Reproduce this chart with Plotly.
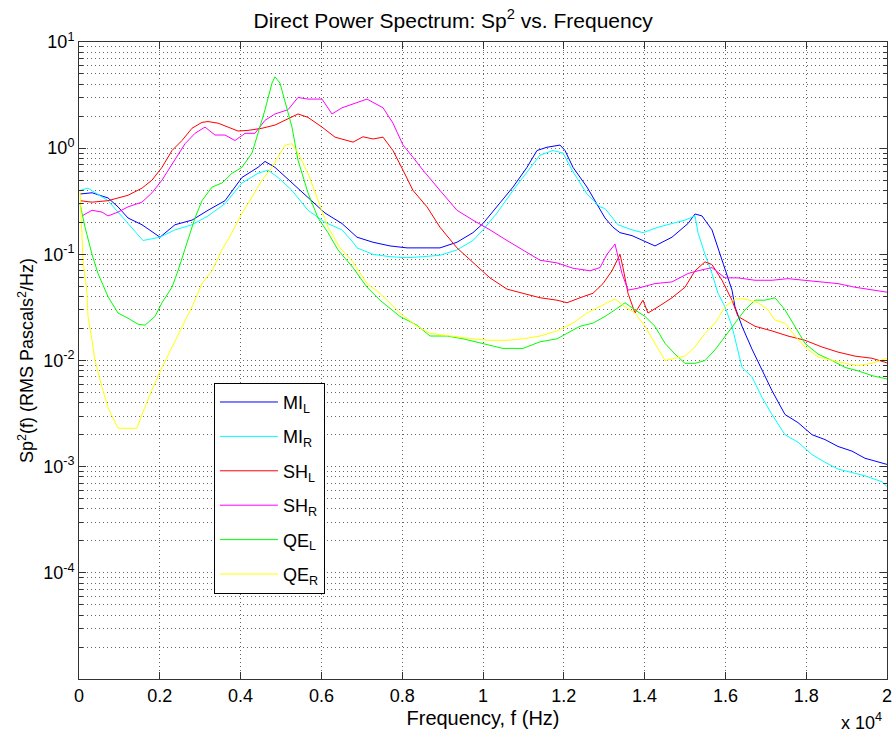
import plotly.graph_objects as go

# ---- data (frequency in Hz, Sp^2 in RMS Pascals^2/Hz) ----
mil_f = [25, 322, 718, 965, 1213, 1559, 2005, 2376, 2797, 3193, 3614, 4035, 4431, 4604, 4851, 5272,
         5668, 6089, 6510, 6881, 7277, 7698, 8119, 8515, 8935, 9356, 9752, 10000, 10346, 10742, 11089,
         11336, 11584, 11906, 12030, 12228, 12574, 12896, 13020, 13218, 13391, 13688, 14084, 14257,
         14678, 15074, 15248, 15421, 15668, 15817, 15990, 16163, 16238, 16411, 16658, 16906, 17153,
         17475, 17797, 18144, 18465, 18787, 19134, 19455, 19777, 20000]
mil_v = [0.37, 0.38, 0.34, 0.28, 0.22, 0.19, 0.145, 0.19, 0.21, 0.26, 0.32, 0.53, 0.66, 0.75, 0.66, 0.47,
         0.34, 0.245, 0.195, 0.145, 0.13, 0.12, 0.115, 0.115, 0.115, 0.13, 0.16, 0.195, 0.28, 0.43, 0.66,
         0.95, 1.02, 1.07, 0.95, 0.66, 0.43, 0.26, 0.22, 0.18, 0.16, 0.15, 0.13, 0.12,
         0.145, 0.195, 0.24, 0.23, 0.17, 0.115, 0.075, 0.046, 0.032, 0.021, 0.0128, 0.0081, 0.0052,
         0.0031, 0.0026, 0.0020, 0.0018, 0.00155, 0.0014, 0.0012, 0.0011, 0.00105]

mir_f = [25, 223, 718, 1139, 1584, 2005, 2376, 2797, 3193, 3614, 4035, 4431, 4678, 4926, 5272, 5668,
         6089, 6510, 6782, 6881, 7277, 7698, 8119, 8515, 8935, 9356, 9752, 10000, 10346, 10742, 11089,
         11411, 11732, 11980, 12228, 12574, 12896, 13020, 13341, 13688, 13960, 14332, 14678, 15000,
         15248, 15322, 15495, 15668, 15817, 15990, 16163, 16411, 16658, 16906, 17153, 17475, 17797,
         18144, 18465, 18787, 19134, 19455, 19876, 20000]
mir_v = [0.40, 0.42, 0.32, 0.21, 0.135, 0.145, 0.17, 0.19, 0.23, 0.30, 0.47, 0.58, 0.62, 0.53, 0.40, 0.26,
         0.20, 0.17, 0.13, 0.115, 0.10, 0.095, 0.093, 0.095, 0.098, 0.11, 0.135, 0.17, 0.245, 0.40, 0.60,
         0.86, 0.95, 0.90, 0.60, 0.37, 0.28, 0.27, 0.19, 0.17, 0.16, 0.18, 0.195, 0.21,
         0.23, 0.16, 0.10, 0.066, 0.043, 0.032, 0.021, 0.0086, 0.007, 0.0045, 0.0031, 0.0020, 0.0017,
         0.0013, 0.0011, 0.00095, 0.00088, 0.00082, 0.00072, 0.00065]

shl_f = [25, 322, 718, 965, 1213, 1559, 1807, 2054, 2302, 2549, 2797, 3044, 3193, 3441, 3688, 3936,
         4183, 4530, 4851, 5173, 5421, 5668, 6015, 6337, 6782, 7030, 7277, 7525, 7772, 8020, 8267, 8614,
         8935, 9356, 9752, 10173, 10594, 10990, 11411, 11831, 12079, 12401, 12723, 12970, 13193, 13391,
         13465, 13589, 13762, 13960, 14084, 14332, 14678, 15000, 15248, 15495, 15668, 15916, 16163,
         16312, 16733, 17153, 17549, 17970, 18391, 18787, 19208, 19629, 20000]
shl_v = [0.32, 0.31, 0.32, 0.34, 0.36, 0.42, 0.50, 0.66, 0.95, 1.18, 1.54, 1.75, 1.78, 1.72, 1.58, 1.45,
         1.47, 1.54, 1.65, 1.90, 2.10, 1.95, 1.58, 1.27, 1.14, 1.28, 1.22, 1.27, 0.95, 0.62, 0.40, 0.28,
         0.18, 0.115, 0.083, 0.060, 0.047, 0.043, 0.039, 0.037, 0.035, 0.039, 0.043, 0.053, 0.070, 0.10,
         0.075, 0.043, 0.028, 0.037, 0.028, 0.032, 0.039, 0.049, 0.070, 0.085, 0.080, 0.057, 0.037,
         0.026, 0.021, 0.019, 0.017, 0.0155, 0.0134, 0.012, 0.011, 0.0105, 0.0095]

shr_f = [74, 322, 569, 718, 965, 1213, 1559, 1807, 2054, 2376, 2624, 2871, 3119, 3366, 3614, 3861,
         4109, 4356, 4604, 4851, 5173, 5421, 5668, 6015, 6262, 6510, 6782, 7129, 7277, 7525, 7772,
         8020, 8267, 8515, 8935, 9356, 9752, 10173, 10594, 10990, 11411, 11831, 12228, 12648, 12896,
         13069, 13267, 13440, 13589, 13837, 14257, 14678, 15074, 15322, 15668, 15990, 16312, 16733,
         17153, 17549, 17970, 18391, 18787, 19208, 19629, 20000]
shr_v = [0.23, 0.26, 0.25, 0.23, 0.25, 0.28, 0.31, 0.38, 0.50, 0.77, 1.10, 1.38, 1.58, 1.33, 1.33, 1.18,
         1.38, 1.38, 1.83, 2.10, 2.30, 3.00, 2.90, 2.90, 2.10, 2.40, 2.60, 2.90, 2.70, 2.40, 1.72,
         1.07, 0.82, 0.62, 0.40, 0.26, 0.21, 0.17, 0.135, 0.11, 0.088, 0.083, 0.074, 0.070, 0.075,
         0.10, 0.125, 0.066, 0.046, 0.048, 0.053, 0.055, 0.066, 0.070, 0.075, 0.060, 0.060, 0.057,
         0.057, 0.059, 0.057, 0.055, 0.053, 0.049, 0.046, 0.044]

qel_f = [25, 149, 322, 470, 718, 965, 1213, 1460, 1634, 1881, 2054, 2302, 2450, 2698, 2871, 3044, 3292,
         3540, 3787, 4035, 4282, 4431, 4604, 4777, 4851, 4975, 5099, 5272, 5421, 5668, 5916, 6163, 6411,
         6782, 7129, 7450, 7945, 8366, 8688, 9109, 9505, 10000, 10495, 10990, 11411, 11831, 12079,
         12401, 12723, 13020, 13267, 13515, 13762, 14010, 14257, 14505, 14752, 15000, 15248, 15495,
         15743, 15990, 16238, 16485, 16733, 16980, 17228, 17475, 17723, 17970, 18292, 18639, 18960,
         19282, 19629, 20000]
qel_v = [0.30, 0.18, 0.10, 0.066, 0.040, 0.028, 0.025, 0.022, 0.0215, 0.026, 0.035, 0.049, 0.070, 0.135,
         0.22, 0.32, 0.43, 0.47, 0.58, 0.66, 0.90, 1.38, 2.30, 4.10, 4.70, 4.10, 2.80, 1.58, 0.77, 0.38,
         0.22, 0.16, 0.11, 0.075, 0.049, 0.037, 0.026, 0.0215, 0.017, 0.017, 0.016, 0.0145, 0.013, 0.013,
         0.015, 0.016, 0.018, 0.021, 0.0225, 0.026, 0.030, 0.035, 0.030, 0.026, 0.021, 0.0145, 0.0115,
         0.0094, 0.0094, 0.010, 0.0126, 0.017, 0.0225, 0.030, 0.037, 0.037, 0.039, 0.030, 0.021, 0.0145,
         0.0115, 0.010, 0.0086, 0.0080, 0.0072, 0.0067]

qer_f = [25, 99, 198, 223, 322, 396, 569, 718, 965, 1213, 1436, 1559, 1807, 2054, 2302, 2549, 2797,
         3044, 3292, 3540, 3787, 4035, 4183, 4530, 4777, 4926, 5099, 5272, 5421, 5668, 5916, 6163, 6460,
         6782, 7129, 7450, 7945, 8366, 8688, 9183, 9752, 10173, 10594, 10990, 11411, 11831, 12228,
         12574, 12896, 13218, 13267, 13515, 13762, 14010, 14257, 14505, 14752, 15000, 15248, 15495,
         15743, 15990, 16238, 16485, 16807, 17054, 17228, 17475, 17723, 17970, 18292, 18639, 18960,
         19282, 19629, 20000]
qer_v = [0.40, 0.088, 0.043, 0.026, 0.0155, 0.010, 0.0056, 0.0036, 0.0023, 0.0023, 0.0023, 0.0031,
         0.0053, 0.0086, 0.0134, 0.021, 0.032, 0.053, 0.070, 0.11, 0.16, 0.245, 0.30, 0.50, 0.66, 0.82,
         1.07, 1.10, 0.90, 0.58, 0.32, 0.18, 0.115, 0.085, 0.053, 0.043, 0.028, 0.021, 0.018, 0.017,
         0.016, 0.0155, 0.0155, 0.016, 0.017, 0.019, 0.0225, 0.028, 0.032, 0.037, 0.038, 0.032, 0.028,
         0.021, 0.0145, 0.010, 0.0105, 0.011, 0.0134, 0.018, 0.0225, 0.032, 0.038, 0.038, 0.035, 0.030,
         0.024, 0.0225, 0.017, 0.0134, 0.0108, 0.010, 0.0094, 0.0090, 0.0094, 0.0105]

series = [
    ("MI<sub>L</sub>", mil_f, mil_v, "#0000ff"),
    ("MI<sub>R</sub>", mir_f, mir_v, "#00ffff"),
    ("SH<sub>L</sub>", shl_f, shl_v, "#ff0000"),
    ("SH<sub>R</sub>", shr_f, shr_v, "#ff00ff"),
    ("QE<sub>L</sub>", qel_f, qel_v, "#00ff00"),
    ("QE<sub>R</sub>", qer_f, qer_v, "#ffff00"),
]

x_tick_vals = [0, 2000, 4000, 6000, 8000, 10000, 12000, 14000, 16000, 18000, 20000]
x_tick_text = ["0", "0.2", "0.4", "0.6", "0.8", "1", "1.2", "1.4", "1.6", "1.8", "2"]
y_tick_vals = [1e-4, 1e-3, 1e-2, 1e-1, 1, 10]
y_tick_text = ["10<sup>-4</sup>", "10<sup>-3</sup>", "10<sup>-2</sup>", "10<sup>-1</sup>",
               "10<sup>0</sup>", "10<sup>1</sup>"]
y_minor_vals = [m * 10.0 ** e for e in range(-5, 1) for m in range(2, 10)]

FONT = "Liberation Sans, Arial, sans-serif"

fig = go.Figure()
for i, (name, f, v, c) in enumerate(series):
    fig.add_trace(go.Scatter(x=f, y=v, mode="lines", name=name, legendgroup=f"g{i}",
                             line=dict(color=c, width=1)))

grid = "rgba(0,0,0,0.6)"
dots = "1px,3px"
fig.update_layout(
    width=896, height=738,
    margin=dict(l=79, r=9, t=42, b=59, autoexpand=False),
    paper_bgcolor="white", plot_bgcolor="white",
    font=dict(family=FONT, size=18, color="black"),
    title=dict(text="Direct Power Spectrum: Sp<sup>2</sup> vs. Frequency",
               x=0.463, xref="paper", xanchor="center", y=0.972, yanchor="middle",
               font=dict(size=21)),
    showlegend=True,
    legend=dict(x=0.167, y=0.465, xanchor="left", yanchor="top",
                bgcolor="white", bordercolor="black", borderwidth=1,
                font=dict(size=18), tracegroupgap=8, itemwidth=58),
    xaxis=dict(range=[0, 20000], tickvals=x_tick_vals, ticktext=x_tick_text, automargin=False,
               showgrid=True, gridcolor=grid, griddash=dots, gridwidth=1,
               ticks="inside", ticklen=7, tickcolor="#333", mirror="allticks",
               showline=True, linecolor="#333", linewidth=1, zeroline=False,
               title=dict(text="Frequency, f (Hz)", font=dict(size=20), standoff=6)),
    yaxis=dict(type="log", range=[-5, 1], tickvals=y_tick_vals, ticktext=y_tick_text, automargin=False,
               showgrid=True, gridcolor=grid, griddash=dots, gridwidth=1,
               ticks="inside", ticklen=7, tickcolor="#333", mirror="allticks",
               showline=True, linecolor="#333", linewidth=1, zeroline=False,
               minor=dict(tickvals=y_minor_vals, showgrid=True, gridcolor=grid, griddash=dots,
                          ticks="inside", ticklen=4, tickcolor="#333"),
               title=dict(text="Sp<sup>2</sup>(f) (RMS Pascals<sup>2</sup>/Hz)", font=dict(size=18),
                          standoff=4)),
    annotations=[dict(text="x 10<sup>4</sup>", xref="paper", yref="paper", x=0.996, y=-0.067,
                      xanchor="right", yanchor="middle", showarrow=False, font=dict(size=18))],
)

fig.write_html("out.html", config={"displayModeBar": False},
               post_script="document.body.style.margin='0px';")
